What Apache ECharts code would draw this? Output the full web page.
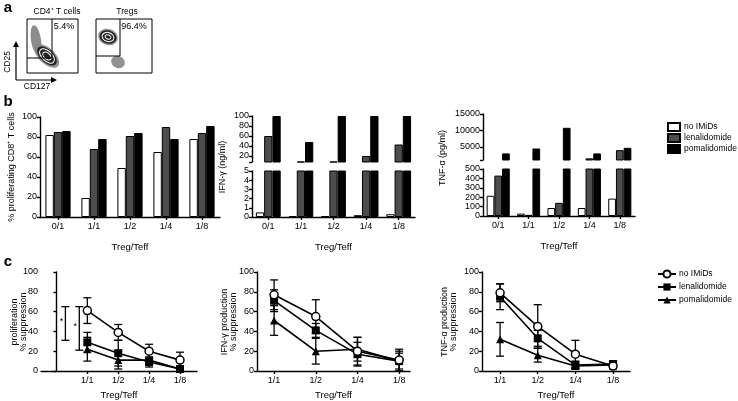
<!DOCTYPE html>
<html><head><meta charset="utf-8">
<script src="https://cdn.jsdelivr.net/npm/echarts@6/dist/echarts.min.js"></script>
<style>html,body{margin:0;padding:0;background:#fff}#c{width:738px;height:401px}</style>
</head><body><div id="c"></div><script>
// ---- data ----
const ratios = ['0/1', '1/1', '1/2', '1/4', '1/8'];
const groups = ['no IMiDs', 'lenalidomide', 'pomalidomide'];
// panel b: % proliferating CD8+ T cells
const prolNo  = [82, 19, 49, 65, 78];
const prolLen = [85, 68, 81, 90, 84];
const prolPom = [86, 78, 84, 78, 91];
// panel b: IFN-gamma (ng/ml)
const ifnNo  = [0.5, 0.1, 0.1, 0.2, 0.3];
const ifnLen = [60, 9, 9, 20, 43];
const ifnPom = [100, 48, 100, 100, 100];
// panel b: TNF-alpha (pg/ml)
const tnfNo  = [215, 25, 85, 85, 185];
const tnfLen = [430, 12, 140, 1500, 4000];
const tnfPom = [3000, 4500, 10800, 3000, 4700];
// tick labels
const prolTicks = [0, 20, 40, 60, 80, 100];
const ifnUpperTicks = [20, 40, 60, 80, 100];
const ifnLowerTicks = [0, 1, 2, 3, 4, 5];
const tnfUpperTicks = [5000, 10000, 15000];
const tnfLowerTicks = [0, 100, 200, 300, 400, 500];
// panel c: % suppression (mean, error)
const supRatios = ['1/1', '1/2', '1/4', '1/8'];
const cProlNo = [61, 39, 20, 11],  cProlNoErr = [13, 8, 7, 8];
const cProlLen = [29, 18, 9, 2],   cProlLenErr = [10, 13, 5, 3];
const cProlPom = [22, 11, 11, 2],  cProlPomErr = [12, 9, 3, 2];
const cIfnNo = [77, 55, 20, 11],   cIfnNoErr = [15, 17, 14, 11];
const cIfnLen = [71, 41, 17, 10],  cIfnLenErr = [11, 7, 12, 10];
const cIfnPom = [51, 20, 22, 10],  cIfnPomErr = [15, 13, 12, 8];
const cTnfNo = [79, 45, 17, 5],    cTnfNoErr = [9, 22, 14, 3];
const cTnfLen = [75, 33, 6, 7],    cTnfLenErr = [13, 8, 4, 3];
const cTnfPom = [32, 16, 5, 6],    cTnfPomErr = [17, 7, 2, 3];
// significance brackets (panel c, proliferation)
const sigX = [0.29, 0.74];
const sigLow = [31, 21];
const sigHigh = [65, 65];

// ---- chart ----
const FONT = "'Liberation Sans', Arial, sans-serif";
const chart = echarts.init(document.getElementById('c'), null, {renderer: 'canvas'});
const axLine = {show: true, lineStyle: {color: '#000', width: 1.4}};
const axTick = {show: true, length: 3, lineStyle: {color: '#000', width: 1.4}};
const lbl = {color: '#000', fontSize: 9, fontFamily: FONT};

const grids = [
  {left: 40, top: 117, width: 180, height: 100},   // 0 prol
  {left: 252, top: 116, width: 163, height: 46},   // 1 ifn upper
  {left: 252, top: 171, width: 163, height: 46},   // 2 ifn lower
  {left: 483, top: 114, width: 152, height: 46},   // 3 tnf upper
  {left: 483, top: 169, width: 152, height: 47},   // 4 tnf lower
  {left: 41, top: 272, width: 156, height: 101},   // 5 c prol
  {left: 257, top: 272, width: 153, height: 101},  // 6 c ifn
  {left: 482, top: 272, width: 148, height: 101}   // 7 c tnf
];

function catX(gi, show) {
  return {type: 'category', gridIndex: gi, data: ratios, show: show,
    axisLine: axLine, axisTick: Object.assign({alignWithLabel: true}, axTick),
    axisLabel: Object.assign({margin: 5, fontSize: 9.5}, lbl),
    name: show ? 'Treg/Teff' : '', nameLocation: 'middle', nameGap: 25,
    nameTextStyle: {color: '#000', fontSize: 9.5, fontFamily: FONT}};
}
function valY(gi, min, max, tickVals, labelVals) {
  return {type: 'value', gridIndex: gi, min: min, max: max,
    splitLine: {show: false}, axisLine: axLine,
    axisTick: Object.assign({customValues: tickVals}, axTick),
    axisLabel: Object.assign({customValues: labelVals, margin: 3, formatter: v => String(v)}, lbl)};
}
function supX(gi, min, max) {
  return {type: 'value', gridIndex: gi, min: min, max: max, splitLine: {show: false},
    axisLine: axLine,
    axisTick: Object.assign({customValues: [1, 2, 3, 4]}, axTick),
    axisLabel: Object.assign({customValues: [1, 2, 3, 4], margin: 5, fontSize: 9.5,
      formatter: v => supRatios[Math.round(v) - 1] || ''}, lbl),
    name: 'Treg/Teff', nameLocation: 'middle', nameGap: 19,
    nameTextStyle: {color: '#000', fontSize: 9.5, fontFamily: FONT}};
}

const xAxes = [catX(0, true), catX(1, false), catX(2, true), catX(3, false), catX(4, true),
  supX(5, -0.5, 4.55), supX(6, 0.59, 4.26), supX(7, 0.52, 4.45)];
const yAxes = [
  valY(0, 0, 100, prolTicks, prolTicks),
  valY(1, 8, 100, [8].concat(ifnUpperTicks), ifnUpperTicks),
  valY(2, 0, 5, ifnLowerTicks, ifnLowerTicks),
  valY(3, 1000, 15000, [1000].concat(tnfUpperTicks), tnfUpperTicks),
  valY(4, 0, 500, tnfLowerTicks, tnfLowerTicks),
  valY(5, 0, 100, prolTicks, prolTicks),
  valY(6, 0, 100, prolTicks, prolTicks),
  valY(7, 0, 100, prolTicks, prolTicks)
];

const barStyles = [
  {color: '#ffffff', borderColor: '#000', borderWidth: 1},
  {color: '#4d4d4d', borderColor: '#000', borderWidth: 1},
  {color: '#000000', borderColor: '#000', borderWidth: 1}
];
const series = [];
function addBars(gi, arrs, gap) {
  arrs.forEach((d, i) => series.push({type: 'bar', name: groups[i], xAxisIndex: gi, yAxisIndex: gi,
    data: d, barGap: '0%', barCategoryGap: gap, itemStyle: barStyles[i], clip: true,
    silent: true, animation: false}));
}
addBars(0, [prolNo, prolLen, prolPom], '30%');
addBars(1, [ifnNo, ifnLen, ifnPom], '24%');
addBars(2, [ifnNo, ifnLen, ifnPom], '24%');
addBars(3, [tnfNo, tnfLen, tnfPom], '24%');
addBars(4, [tnfNo, tnfLen, tnfPom], '24%');

function errRender(params, api) {
  const x = api.value(0);
  const lo = api.coord([x, api.value(1)]);
  const hi = api.coord([x, api.value(2)]);
  const w = 4, st = {stroke: '#000', lineWidth: 1.3};
  return {type: 'group', children: [
    {type: 'line', shape: {x1: lo[0], y1: lo[1], x2: hi[0], y2: hi[1]}, style: st},
    {type: 'line', shape: {x1: lo[0] - w, y1: lo[1], x2: lo[0] + w, y2: lo[1]}, style: st},
    {type: 'line', shape: {x1: hi[0] - w, y1: hi[1], x2: hi[0] + w, y2: hi[1]}, style: st}
  ]};
}
const symbols = [
  {symbol: 'circle', size: 8, style: {color: '#fff', borderColor: '#000', borderWidth: 1.5}},
  {symbol: 'rect', size: 8, style: {color: '#000', borderColor: '#000', borderWidth: 0}},
  {symbol: 'triangle', size: 8, style: {color: '#000', borderColor: '#000', borderWidth: 0}}
];
function addLines(gi, vals, errs) {
  vals.forEach((v, i) => {
    series.push({type: 'custom', xAxisIndex: gi, yAxisIndex: gi, silent: true, animation: false,
      data: v.map((m, k) => [k + 1, Math.max(0, m - errs[i][k]), m + errs[i][k]]),
      renderItem: errRender, z: 2});
  });
  vals.forEach((v, i) => {
    series.push({type: 'line', name: 'c:' + groups[i], xAxisIndex: gi, yAxisIndex: gi,
      data: v.map((m, k) => [k + 1, m]), symbol: symbols[i].symbol, symbolSize: symbols[i].size,
      showSymbol: true, lineStyle: {color: '#000', width: 1.6}, itemStyle: symbols[i].style,
      silent: true, animation: false, z: 3 + (2 - i)});
  });
}
addLines(5, [cProlNo, cProlLen, cProlPom], [cProlNoErr, cProlLenErr, cProlPomErr]);
addLines(6, [cIfnNo, cIfnLen, cIfnPom], [cIfnNoErr, cIfnLenErr, cIfnPomErr]);
addLines(7, [cTnfNo, cTnfLen, cTnfPom], [cTnfNoErr, cTnfLenErr, cTnfPomErr]);

series.push({type: 'custom', xAxisIndex: 5, yAxisIndex: 5, silent: true, animation: false,
  data: sigX.map((x, i) => [x, sigLow[i], sigHigh[i]]),
  renderItem: function (params, api) {
    const g = errRender(params, api);
    const a = api.coord([api.value(0), (api.value(1) + api.value(2)) / 2]);
    g.children.push({type: 'text', x: a[0] - 4, y: a[1] - 2,
      style: {text: '*', fill: '#000', font: '9px ' + FONT, align: 'center', verticalAlign: 'middle'}});
    return g;
  }});

// ---- panel a graphics ----
const gtxt = (x, y, t, o) => Object.assign({type: 'text', x: x, y: y,
  style: Object.assign({text: t, fill: '#000', font: '9px ' + FONT, align: 'center', verticalAlign: 'middle'}, o || {})});
const blob = (cx, cy, rx, ry, rot, fill, op) => ({type: 'ellipse', x: cx, y: cy, rotation: rot,
  shape: {cx: 0, cy: 0, rx: rx, ry: ry}, style: {fill: fill, opacity: op}});
const ring = (cx, cy, rx, ry, rot) => ({type: 'ellipse', x: cx, y: cy, rotation: rot,
  shape: {cx: 0, cy: 0, rx: rx, ry: ry}, style: {fill: 'none', stroke: '#fff', lineWidth: 1}});
const ln = (x1, y1, x2, y2, w) => ({type: 'line', shape: {x1, y1, x2, y2}, style: {stroke: '#000', lineWidth: w || 1}});

const graphics = [
  gtxt(8, 8, 'a', {font: 'bold 15px ' + FONT}),
  gtxt(8, 102, 'b', {font: 'bold 15px ' + FONT}),
  gtxt(8, 262, 'c', {font: 'bold 15px ' + FONT}),
  gtxt(57, 12, 'CD4⁺ T cells', {font: '8.5px ' + FONT}),
  gtxt(127, 12, 'Tregs', {font: '8.5px ' + FONT}),
  // box 1 clouds
  blob(36, 40, 5, 15, 0.15, '#666', 0.75),
  blob(47, 56, 15, 8, -0.75, '#888', 0.9),
  blob(47, 56, 12, 6.5, -0.75, '#222', 1),
  ring(47, 56, 9, 5, -0.75), ring(47, 56, 5, 3, -0.75),
  // box 2 clouds
  blob(108, 37, 10, 8, -0.3, '#888', 0.9),
  blob(108, 37, 8.5, 6.5, -0.3, '#222', 1),
  ring(108, 37, 6, 4.5, -0.3), ring(108, 37, 3, 2, -0.3),
  blob(118, 62, 7, 6, -0.5, '#777', 0.8),
  // boxes
  {type: 'rect', shape: {x: 27, y: 19, width: 51, height: 54}, style: {fill: 'none', stroke: '#000', lineWidth: 1}},
  {type: 'rect', shape: {x: 96, y: 19, width: 56, height: 54}, style: {fill: 'none', stroke: '#000', lineWidth: 1}},
  ln(52, 19, 52, 58), ln(27, 58, 52, 58),
  ln(120, 19, 120, 56), ln(96, 56, 120, 56),
  gtxt(64, 27, '5.4%'), gtxt(134, 27, '96.4%'),
  // axis arrows
  ln(16, 80, 16, 46, 1.2), ln(16, 80, 52, 80, 1.2),
  {type: 'polygon', shape: {points: [[13, 47], [19, 47], [16, 41]]}, style: {fill: '#000'}},
  {type: 'polygon', shape: {points: [[51, 77], [51, 83], [57, 80]]}, style: {fill: '#000'}},
  gtxt(8, 62, 'CD25', {font: '8.5px ' + FONT}),
  gtxt(37, 87, 'CD127', {font: '8.5px ' + FONT}),
  // y-axis titles
  gtxt(12, 167, '% proliferating CD8⁺ T cells', {font: '9px ' + FONT}),
  gtxt(223, 167, 'IFN-γ (ng/ml)', {font: '9px ' + FONT}),
  gtxt(443, 158, 'TNF-α (pg/ml)', {font: '9px ' + FONT}),
  gtxt(19, 322, 'proliferation\n% suppression', {font: '9px ' + FONT, lineHeight: 9}),
  gtxt(229, 322, 'IFN-γ production\n% suppression', {font: '9px ' + FONT, lineHeight: 9}),
  gtxt(449, 322, 'TNF-α production\n% suppression', {font: '9px ' + FONT, lineHeight: 9})
];
['% proliferating', 'IFN-γ (ng', 'TNF-α (pg', 'proliferation\n', 'IFN-γ production', 'TNF-α production']
  .forEach(k => { const g = graphics.find(e => e.style && e.style.text && e.style.text.indexOf(k) === 0); if (g) g.rotation = Math.PI / 2; });
graphics.find(e => e.style && e.style.text === 'CD25').rotation = Math.PI / 2;

chart.setOption({
  animation: false,
  textStyle: {fontFamily: FONT},
  grid: grids,
  xAxis: xAxes,
  yAxis: yAxes,
  legend: [
    {data: groups, orient: 'vertical', left: 667, top: 122, padding: 0, itemWidth: 12, itemHeight: 8, itemGap: 1,
      icon: 'rect', selectedMode: false,
      textStyle: {color: '#000', fontSize: 8.5, lineHeight: 10, fontFamily: FONT, padding: [0, 0, 0, -1]}},
    {data: groups.map(g => 'c:' + g), orient: 'vertical', left: 657, top: 269, padding: 0, itemWidth: 18, itemHeight: 9, itemGap: 3,
      selectedMode: false, formatter: n => n.slice(2),
      textStyle: {color: '#000', fontSize: 8.5, lineHeight: 10, fontFamily: FONT, padding: [0, 0, 0, -2]}}
  ],
  series: series,
  graphic: graphics
});
</script></body></html>
